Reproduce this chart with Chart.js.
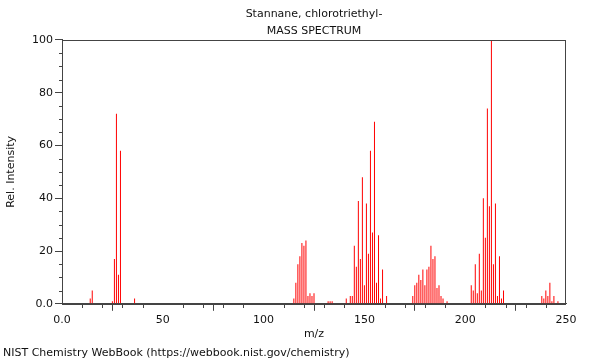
<!DOCTYPE html>
<html>
<head>
<meta charset="utf-8">
<script src="https://cdn.jsdelivr.net/npm/chart.js@4"></script>
<style>
html,body{margin:0;padding:0;background:#fff;}
#c{display:block;}
</style>
</head>
<body>
<canvas id="c" width="600" height="360"></canvas>
<script>
const titleLines = ['Stannane, chlorotriethyl-', 'MASS SPECTRUM'];
const footerText = 'NIST Chemistry WebBook (https://webbook.nist.gov/chemistry)';
const xTitle = 'm/z';
const yTitle = 'Rel. Intensity';

const mz = [14,15,25,26,27,28,29,36,
  115,116,117,118,119,120,121,122,123,124,125,
  132,133,134,
  141,143,144,145,146,147,148,149,150,151,152,153,154,155,156,157,158,159,161,
  174,175,176,177,178,179,180,181,182,183,184,185,186,187,188,189,191,
  203,204,205,206,207,208,209,210,211,212,213,214,215,216,217,218,219,
  238,239,240,241,242,243,244,246];
const intensity = [2,5,1,17,72,11,58,2,
  2,8,15,18,23,22,24,3,4,3,4,
  1,1,1,
  2,3,3,22,14,39,17,48,7,38,19,58,27,69,8,26,2,13,3,
  3,7,8,11,9,13,7,13,14,22,17,18,6,7,3,2,1,
  7,5,15,4,19,5,40,25,74,37,100,15,38,3,18,2,5,
  3,2,5,3,8,1,3,1];

const xMajorTicks = [0,50,100,150,200,250];
const yMajorTicks = [0,20,40,60,80,100];
const xMinorStep = 10;
const yMinorStep = 5;

const FONT = "'DejaVu Sans', sans-serif";
const AXIS_COLOR = '#444';

const framePlugin = {
  id: 'frame',
  afterDraw(chart) {
    const {ctx, chartArea: a, scales} = chart;
    ctx.save();
    ctx.strokeStyle = AXIS_COLOR;
    ctx.lineWidth = 1;
    ctx.strokeRect(Math.round(a.left) + 0.5, Math.round(a.top) + 0.5,
                   Math.round(a.right - a.left) - 1, Math.round(a.bottom - a.top));
    ctx.beginPath();
    const xs = scales.x, ys = scales.y;
    for (let v = xs.min; v <= xs.max; v += xMinorStep) {
      if (xMajorTicks.includes(v)) continue;
      const px = Math.round(xs.getPixelForValue(v)) + 0.5;
      ctx.moveTo(px, Math.round(a.bottom) + 0.5);
      ctx.lineTo(px, Math.round(a.bottom) + 4);
    }
    for (let v = ys.min; v <= ys.max; v += yMinorStep) {
      if (yMajorTicks.includes(v)) continue;
      const py = Math.round(ys.getPixelForValue(v)) + 0.5;
      ctx.moveTo(Math.round(a.left) + 0.5, py);
      ctx.lineTo(Math.round(a.left) - 3, py);
    }
    ctx.stroke();
    ctx.restore();
  }
};

new Chart(document.getElementById('c'), {
  type: 'bar',
  data: {
    datasets: [{
      data: mz.map((m, i) => ({x: m, y: intensity[i]})),
      backgroundColor: 'rgb(255,0,0)',
      borderWidth: 0,
      inflateAmount: 0,
      barThickness: 1,
      grouped: false
    }]
  },
  options: {
    responsive: false,
    animation: false,
    events: [],
    layout: {padding: {left: 3, right: 34, top: 0, bottom: 0}},
    plugins: {
      legend: {display: false},
      tooltip: {enabled: false},
      title: {
        display: true,
        text: titleLines,
        fullSize: false,
        color: '#111',
        font: {family: FONT, size: 11, weight: 'normal', lineHeight: 1.545},
        padding: {top: 6, bottom: 0}
      },
      subtitle: {
        display: true,
        text: footerText,
        position: 'bottom',
        align: 'start',
        color: '#111',
        font: {family: FONT, size: 11, weight: 'normal', lineHeight: 1.2},
        padding: {top: 1, bottom: 0}
      }
    },
    scales: {
      x: {
        type: 'linear',
        min: 0, max: 250,
        offset: false,
        afterBuildTicks: s => { s.ticks = xMajorTicks.map(v => ({value: v})); },
        afterFit: s => { s.height = 42; },
        ticks: {
          autoSkip: false, maxRotation: 0, padding: 3,
          color: '#111',
          font: {family: FONT, size: 11},
          callback: v => v === 0 ? '0.0' : String(v)
        },
        grid: {drawOnChartArea: false, tickLength: 7, tickColor: AXIS_COLOR, color: AXIS_COLOR},
        border: {display: true, color: AXIS_COLOR},
        title: {display: true, text: xTitle, color: '#111',
          font: {family: FONT, size: 11}, padding: {top: 2, bottom: 5}}
      },
      y: {
        type: 'linear',
        min: 0, max: 100,
        afterBuildTicks: s => { s.ticks = yMajorTicks.map(v => ({value: v})); },
        afterFit: s => { s.width = 59; },
        ticks: {
          autoSkip: false, padding: 2,
          color: '#111',
          font: {family: FONT, size: 11},
          callback: v => v === 0 ? '0.0' : String(v)
        },
        grid: {drawOnChartArea: false, tickLength: 7, tickColor: AXIS_COLOR, color: AXIS_COLOR},
        border: {display: true, color: AXIS_COLOR},
        title: {display: true, text: yTitle, color: '#111',
          font: {family: FONT, size: 11}, padding: {top: 2, bottom: 4}}
      }
    }
  },
  plugins: [framePlugin]
});
</script>
</body>
</html>
